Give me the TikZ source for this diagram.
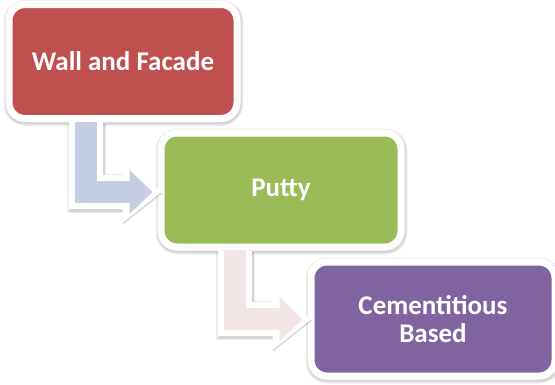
\documentclass[tikz,border=0pt]{standalone}
\usepackage{fontspec}
\setmainfont{Carlito}
\usetikzlibrary{arrows.meta}
\definecolor{wallred}{HTML}{C0504D}
\definecolor{puttygreen}{HTML}{9BBB59}
\definecolor{cementpurple}{HTML}{8064A2}
\definecolor{arrowblue}{HTML}{C3CEE3}
\definecolor{arrowpink}{HTML}{F2E5E5}
\begin{document}
\begin{tikzpicture}[x=1pt, y=-1pt,
    soft/.style={preaction={draw=black, draw opacity=0.07, fill opacity=0.07, line width=#1+5pt, transform canvas={shift={(0.5pt,-1.5pt)}}},
                 preaction={draw=black, draw opacity=0.1, fill opacity=0.1, line width=#1+2pt, transform canvas={shift={(0.5pt,-1.5pt)}}}},
    box/.style={draw=white, line width=7pt, rounded corners=16pt, minimum height=114pt, text=white, align=center, font=\bfseries\fontsize{27}{28}\selectfont, soft=7pt},
    halo/.style={draw=white, line width=34pt, -{Triangle[length=39pt,width=62pt,line width=0pt]}},
    flow/.style={line width=22pt, -{Triangle[length=23pt,width=44pt,line width=0pt]}}]
    \useasboundingbox (0,0) rectangle (555,384);
    \node[box, fill=wallred, minimum width=228pt] (wall) at (123, 61.5) {Wall and Facade};
    \node[box, fill=puttygreen, minimum width=240pt] (putty) at (281, 190) {Putty};
    \node[box, fill=cementpurple, minimum width=244pt] (cement) at (433, 319) {Cementitious\\Based};
    \draw [halo, soft=34pt] ([xshift=-37pt]wall.south) |- ([xshift=4pt, yshift=-2pt]putty.west);
    \draw [flow, draw=arrowblue] ([xshift=-37pt]wall.south) |- ([xshift=-5pt, yshift=-2pt]putty.west);
    \draw [halo, soft=34pt] ([xshift=-46pt]putty.south) |- ([xshift=4pt]cement.west);
    \draw [flow, draw=arrowpink] ([xshift=-46pt]putty.south) |- ([xshift=-5pt]cement.west);
\end{tikzpicture}
\end{document}
